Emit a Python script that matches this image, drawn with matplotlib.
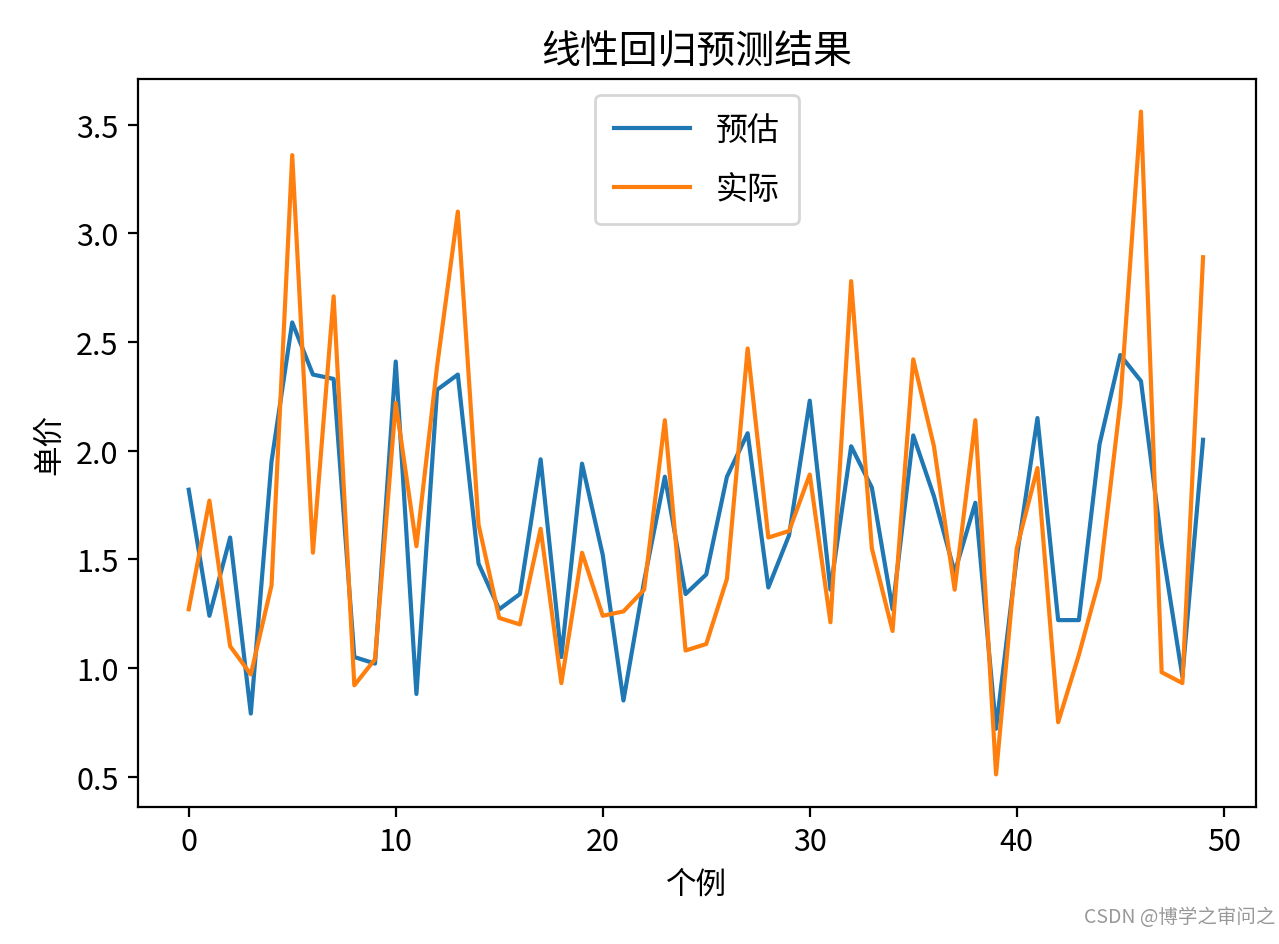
import matplotlib
matplotlib.use("Agg")
import matplotlib.pyplot as plt
import numpy as np

plt.rcParams['font.family'] = ['Noto Sans CJK SC', 'DejaVu Sans']
plt.rcParams['axes.unicode_minus'] = False

predicted = [1.82, 1.24, 1.60, 0.79, 1.95, 2.59, 2.35, 2.33, 1.05, 1.02,
             2.41, 0.88, 2.28, 2.35, 1.48, 1.27, 1.34, 1.96, 1.05, 1.94,
             1.52, 0.85, 1.40, 1.88, 1.34, 1.43, 1.88, 2.08, 1.37, 1.61,
             2.23, 1.36, 2.02, 1.83, 1.27, 2.07, 1.79, 1.44, 1.76, 0.72,
             1.51, 2.15, 1.22, 1.22, 2.03, 2.44, 2.32, 1.57, 0.96, 2.05]
actual = [1.27, 1.77, 1.10, 0.97, 1.38, 3.36, 1.53, 2.71, 0.92, 1.04,
          2.22, 1.56, 2.39, 3.10, 1.66, 1.23, 1.20, 1.64, 0.93, 1.53,
          1.24, 1.26, 1.36, 2.14, 1.08, 1.11, 1.41, 2.47, 1.60, 1.63,
          1.89, 1.21, 2.78, 1.55, 1.17, 2.42, 2.02, 1.36, 2.14, 0.51,
          1.55, 1.92, 0.75, 1.06, 1.41, 2.22, 3.56, 0.98, 0.93, 2.89]
labels = ['预估', '实际']

fig = plt.figure(figsize=(6.395, 4.725), dpi=200)
ax = fig.add_axes([0.1079, 0.145, 0.874, 0.7703])
x = np.arange(len(predicted))
ax.plot(x, predicted, color='#1f77b4', lw=1.5, label=labels[0])
ax.plot(x, actual, color='#ff7f0e', lw=1.5, label=labels[1])
ax.set_xlim(-2.45, 51.55)
ax.set_ylim(0.36, 3.71)
ax.set_yticks([0.5, 1.0, 1.5, 2.0, 2.5, 3.0, 3.5])
ax.set_xticks([0, 10, 20, 30, 40, 50])
ax.tick_params(labelsize=11)
ax.set_title('线性回归预测结果', fontsize=14)
ax.set_xlabel('个例', fontsize=11)
ax.set_ylabel('单价', fontsize=11)
ax.legend(loc='upper center', fontsize=11.5, labelspacing=0.85,
          borderpad=0.6, handlelength=2.4, handletextpad=0.8)
fig.text(0.997, 0.018, 'CSDN @博学之审问之', ha='right', va='bottom', fontsize=7, color='#999999')
fig.savefig('out.png', dpi=200)
